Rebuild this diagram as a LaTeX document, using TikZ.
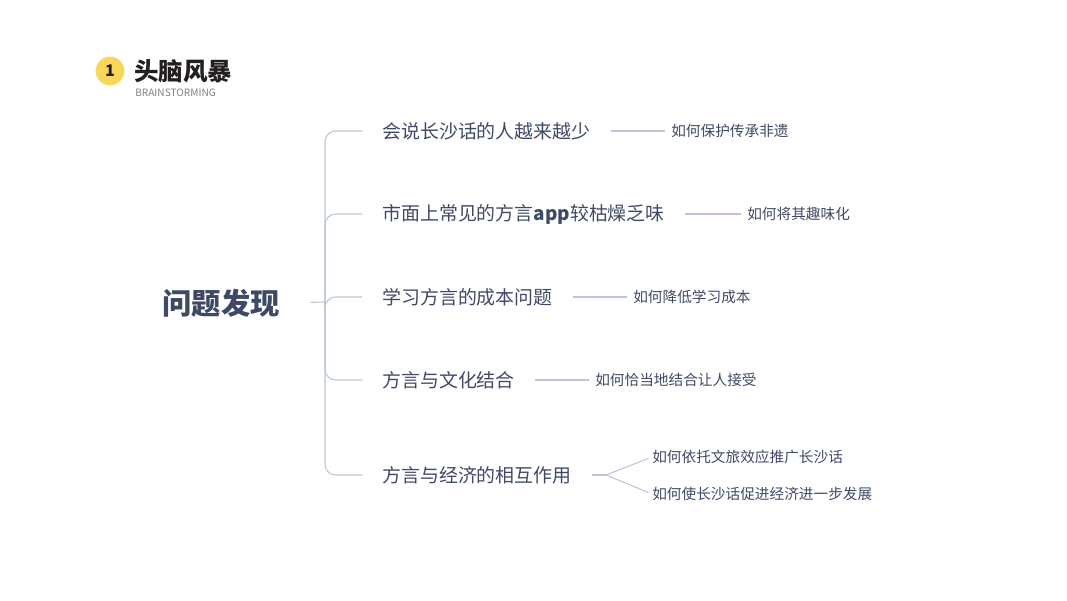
\documentclass[tikz,border=0pt]{standalone}
\usepackage{fontspec}
\setmainfont{Noto Sans CJK SC}
\usetikzlibrary{positioning}
\definecolor{ink}{HTML}{3E4A65}
\definecolor{wire}{HTML}{BAC6D7}
\definecolor{sun}{HTML}{F8D65A}
\definecolor{dark}{HTML}{231F20}

\begin{document}
\begin{tikzpicture}[x=0.75pt,y=-0.75pt,
  topic/.style={inner sep=0pt, anchor=west, text=ink, font=\fontsize{14.2pt}{16pt}\selectfont},
  idea/.style={inner sep=0pt, anchor=west, text=ink, font=\fontsize{11pt}{13pt}\selectfont},
  wireline/.style={draw=wire, line width=0.8pt}]
\useasboundingbox (0,0) rectangle (1067,600);

\node[circle, fill=sun, minimum size=21.5pt, inner sep=0pt, font=\fontsize{12pt}{13pt}\selectfont\bfseries, text=dark] (num) at (110,71) {1};
\node[inner sep=0pt, anchor=west, text=dark, font=\fontsize{18.4pt}{20pt}\selectfont\bfseries] (head) at (134,71) {头脑风暴};
\node[inner sep=0pt, anchor=west, text=gray, font=\fontsize{7.6pt}{8pt}\selectfont] (sub) at (135,93) {BRAINSTORMING};

\node[inner sep=0pt, anchor=east, text=ink, font=\fontsize{22pt}{24pt}\selectfont\bfseries] (root) at (280,303) {问题发现};
\coordinate (trunk) at (325,302);

\node[topic] (a) at (382,131) {会说长沙话的人越来越少};
\node[topic] (b) at (382,214) {市面上常见的方言\textbf{app}较枯燥乏味};
\node[topic] (c) at (382,297) {学习方言的成本问题};
\node[topic] (d) at (382,380) {方言与文化结合};
\node[topic] (e) at (382,475) {方言与经济的相互作用};

\node[idea] (a1) at (671,131) {如何保护传承非遗};
\node[idea] (b1) at (747,214) {如何将其趣味化};
\node[idea] (c1) at (633,297) {如何降低学习成本};
\node[idea] (d1) at (595,380) {如何恰当地结合让人接受};
\node[idea] (e1) at (652,457) {如何依托文旅效应推广长沙话};
\node[idea] (e2) at (652,494) {如何使长沙话促进经济进一步发展};
\coordinate (fork) at (606,475);

% bracket
\draw[wireline, shorten <=23pt] (root.east) -- (trunk);
\foreach \t in {a,b,c,d,e}
  \draw[wireline, rounded corners=8pt, shorten >=15pt] (trunk) |- (\t.west);

% second level
\foreach \t/\s in {a/a1,b/b1,c/c1,d/d1}
  \draw[wireline, shorten <=15pt, shorten >=4.5pt] (\t.east) -- (\s.west);
\draw[wireline, shorten <=15pt] (e.east) -- (fork);
\draw[wireline, shorten >=3pt] (fork) -- (e1.west);
\draw[wireline, shorten >=3pt] (fork) -- (e2.west);
\end{tikzpicture}
\end{document}
